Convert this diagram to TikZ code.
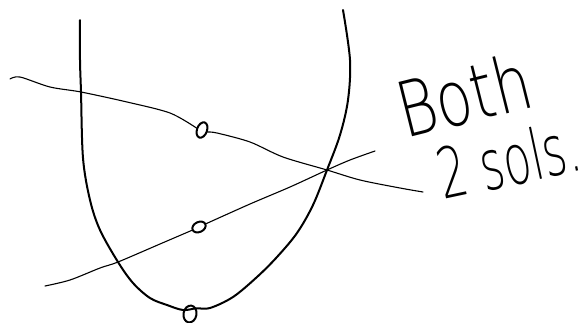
\documentclass[tikz,border=0pt]{standalone}
\usepackage{fontspec}
\usepackage{graphicx}
\usetikzlibrary{shapes.geometric}
\newfontfamily\hand{DejaVuSans-ExtraLight.ttf}
\tikzset{
  curvebig/.style={line width=2pt, line cap=round, line join=round},
  curvethin/.style={line width=1.1pt, line cap=round, line join=round},
  dotring/.style={draw, ellipse, line width=2pt, inner sep=0pt},
  handtext/.style={inner sep=0pt, font=\hand}
}
\begin{document}
\begin{tikzpicture}[x=1pt,y=-1pt]
\useasboundingbox (0,0) rectangle (587,322);
\fill[white] (0,0) rectangle (587,322);
% marked points
\node[dotring, minimum width=10pt, minimum height=16pt, rotate=-20] (d1) at (202,130) {};
\node[dotring, minimum width=14pt, minimum height=10pt, rotate=25] (d2) at (199,227) {};
\node[dotring, minimum width=13pt, minimum height=17pt, rotate=-10] (d3) at (190,314) {};
% parabola
\draw[curvebig] plot[smooth, tension=0.55] coordinates {
 (80,20) (80,60) (81,92) (83,158) (90,200) (100,230) (118,262) (133,283)
 (150,298) (167,305) (183,310) (d3.north east) (210,308) (233,297) (257,277)
 (277,257) (297,233) (313,205) (327,170) (340,135) (348,100) (350,60) (343,10)};
% descending line
\draw[curvethin] plot[smooth, tension=0.5] coordinates {
 (10,79) (20,77) (50,87) (81,92) (127,102) (170,113) (d1.west)};
\draw[curvethin] plot[smooth, tension=0.5] coordinates {
 (d1.east) (217,133) (250,142) (283,157) (327,170) (360,180) (400,188) (423,192)};
% ascending line
\draw[curvethin] plot[smooth, tension=0.5] coordinates {
 (45,286) (70,280) (100,268) (118,262) (160,244) (d2.west)};
\draw[curvethin] plot[smooth, tension=0.5] coordinates {
 (d2.east) (250,204) (290,187) (327,170) (350,160) (375,151)};
% text
\node[handtext, anchor=base west, rotate=14] (both) at (405,139)
  {\fontsize{59}{59}\selectfont\scalebox{1}[1.3]{Both}};
\node[handtext, anchor=base west, rotate=12] (sols) at (443,200)
  {\fontsize{45}{45}\selectfont\scalebox{1}[1.55]{2 sols.}};
\end{tikzpicture}
\end{document}
